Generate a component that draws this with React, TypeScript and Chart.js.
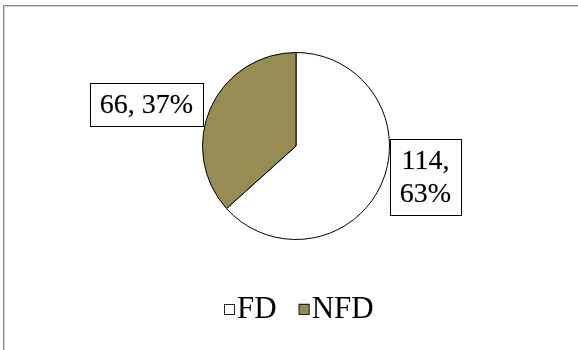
import React, { useEffect, useRef } from "react";
import { Chart, registerables } from "chart.js";

Chart.register(...registerables);

const categories = ["FD", "NFD"];
const values = [114, 66];
const sliceColors = ["#ffffff", "#978d54"];
const labelMaxWidths = [60, 140];

const FONT = "'Liberation Serif', 'Times New Roman', serif";

function wrapText(ctx: CanvasRenderingContext2D, text: string, maxWidth: number): string[] {
  const words = text.split(" ");
  const lines: string[] = [];
  let cur = "";
  for (const w of words) {
    const test = cur ? cur + " " + w : w;
    if (cur && ctx.measureText(test).width > maxWidth) {
      lines.push(cur);
      cur = w;
    } else {
      cur = test;
    }
  }
  if (cur) lines.push(cur);
  return lines;
}

const labelsPlugin = {
  id: "pieLabels",
  afterDatasetsDraw(chart: any) {
    const ctx: CanvasRenderingContext2D = chart.ctx;
    const meta = chart.getDatasetMeta(0);
    const data: number[] = chart.data.datasets[0].data;
    const total = data.reduce((a, b) => a + b, 0);
    ctx.save();
    ctx.font = `28px ${FONT}`;
    ctx.textBaseline = "middle";
    ctx.textAlign = "center";
    const lineH = 33;
    const padX = 10;
    const padY = 5;
    meta.data.forEach((arc: any, i: number) => {
      const p = arc.getProps(["x", "y", "startAngle", "endAngle", "outerRadius"], true);
      const mid = (p.startAngle + p.endAngle) / 2;
      const ax = p.x + Math.cos(mid) * (p.outerRadius + 8);
      const ay = p.y + Math.sin(mid) * (p.outerRadius + 8);
      const pct = Math.round((data[i] / total) * 100);
      const text = `${data[i]}, ${pct}%`;
      const lines = wrapText(ctx, text, labelMaxWidths[i]);
      const tw = Math.max(...lines.map((l) => ctx.measureText(l).width));
      const bw = Math.round(tw + padX * 2);
      const bh = lines.length * lineH + padY * 2;
      const right = Math.cos(mid) >= 0;
      const bx = right ? Math.round(ax + 1) : Math.round(ax - bw);
      const cy = ay - 10 * (lines.length - 1);
      const by = Math.round(cy - bh / 2);
      ctx.fillStyle = "#ffffff";
      ctx.fillRect(bx, by, bw, bh);
      ctx.strokeStyle = "#000000";
      ctx.lineWidth = 1;
      ctx.strokeRect(bx + 0.5, by + 0.5, bw, bh);
      ctx.fillStyle = "#000000";
      ctx.strokeStyle = "rgba(0,0,0,0.35)";
      ctx.lineWidth = 0.5;
      lines.forEach((l, k) => {
        const tx = bx + bw / 2;
        const ty = by + padY + lineH * k + lineH / 2 + 1;
        ctx.fillText(l, tx, ty);
        ctx.strokeText(l, tx, ty);
      });
    });
    ctx.restore();
  },
  afterDraw(chart: any) {
    const ctx: CanvasRenderingContext2D = chart.ctx;
    const labels: string[] = chart.data.labels;
    const colors: string[] = chart.data.datasets[0].backgroundColor;
    ctx.save();
    ctx.font = `31px ${FONT}`;
    ctx.textBaseline = "middle";
    ctx.textAlign = "left";
    const sq = 11;
    const gapText = 2;
    const gapItem = 22;
    const widths = labels.map((l) => sq + gapText + ctx.measureText(l).width);
    const totalW = widths.reduce((a, b) => a + b, 0) + gapItem * (labels.length - 1);
    let x = Math.round(299 - totalW / 2);
    const cy = 309;
    labels.forEach((l, i) => {
      ctx.fillStyle = colors[i];
      ctx.fillRect(x, cy - sq / 2, sq, sq);
      ctx.strokeStyle = "#222";
      ctx.lineWidth = 1;
      ctx.strokeRect(x + 0.5, Math.round(cy - sq / 2) + 0.5, sq - 1, sq - 1);
      ctx.fillStyle = "#000";
      ctx.fillText(l, x + sq + gapText, cy + 1);
      x += widths[i] + gapItem;
    });
    ctx.restore();
  },
};

export default function App() {
  const ref = useRef<HTMLCanvasElement | null>(null);
  useEffect(() => {
    if (!ref.current) return;
    const chart = new Chart(ref.current, {
      type: "pie",
      data: {
        labels: categories,
        datasets: [
          {
            data: values,
            backgroundColor: sliceColors,
            borderColor: "#000000",
            borderWidth: 1,
          },
        ],
      },
      options: {
        responsive: false,
        animation: false,
        layout: { padding: { left: 202, right: 188, top: 52, bottom: 110 } },
        plugins: {
          legend: { display: false },
          tooltip: { enabled: false },
        },
      },
      plugins: [labelsPlugin],
    });
    return () => chart.destroy();
  }, []);
  return (
    <div style={{ position: "fixed", left: 0, top: 0, width: 578, height: 350, background: "#fff", overflow: "hidden" }}>
      <canvas ref={ref} width={578} height={350} style={{ position: "absolute", left: 0, top: 0 }} />
      <div
        style={{
          position: "absolute",
          left: 3,
          top: 5,
          width: 700,
          height: 500,
          borderLeft: "1px solid #8a8a8a",
          borderTop: "1px solid #8a8a8a",
        }}
      >
        <div style={{ position: "absolute", left: 0, top: 0, right: 0, bottom: 0, borderLeft: "1px solid #cfcfcf", borderTop: "1px solid #cfcfcf" }} />
      </div>
    </div>
  );
}
